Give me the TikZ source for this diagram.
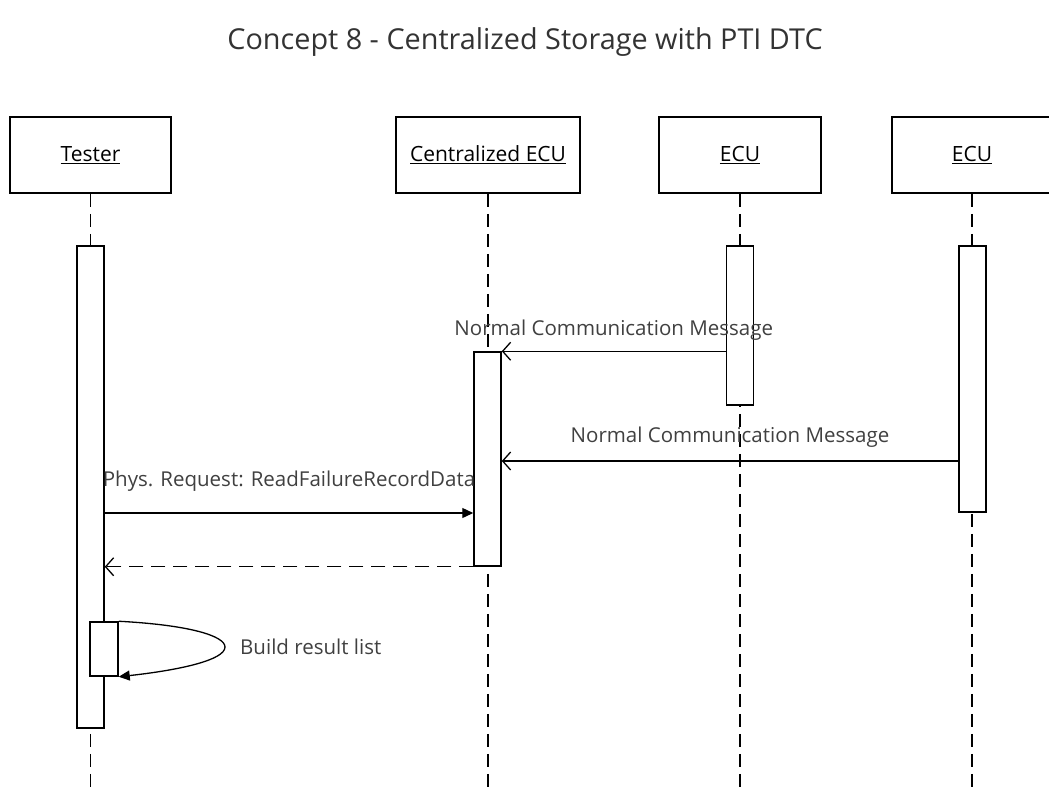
\documentclass[tikz,border=0pt]{standalone}
\usepackage{fontspec}
\setmainfont{Open Sans}
\usetikzlibrary{arrows.meta,positioning}

\begin{document}
\begin{tikzpicture}[x=1pt,y=-1pt,line join=miter,
    obj/.style={draw,line width=1.6pt,minimum height=76pt,font=\fontsize{21}{25}\selectfont},
    bar/.style={draw,fill=white,line width=1.5pt,minimum width=27pt,inner sep=0pt},
    life/.style={line width=1.6pt,dash pattern=on 13pt off 7pt},
    msg/.style={line width=1.3pt,-{Straight Barb[length=8pt,width=18pt]}},
    call/.style={line width=1.3pt,-{Triangle[length=11pt,width=10pt]}},
    ret/.style={msg,dash pattern=on 14pt off 8pt},
    lbl/.style={font=\fontsize{20.5}{24}\selectfont,text=black!75,inner sep=0pt}]
        \useasboundingbox (0,0) rectangle (1049,790);
        \node[font=\fontsize{28.8}{34}\selectfont,text=black!80] (title) at (525,42) {Concept 8 - Centralized Storage with PTI DTC};
        % objects
        \node[obj,minimum width=161pt] (tester) at (90.5,155) {\underline{Tester}};
        \node[obj,minimum width=184pt] (central) at (488,155) {\underline{Centralized ECU}};
        \node[obj,minimum width=162pt] (ecuA) at (740,155) {\underline{ECU}};
        \node[obj,minimum width=160pt] (ecuB) at (972,155) {\underline{ECU}};
        \coordinate (bottom) at (0,790);
        \foreach \o in {tester,central,ecuA,ecuB}
        \draw[life] (\o.south) -- (\o.south |- bottom);
        % activations
        \node[bar,minimum height=482pt] (barT) at (90.5,487) {};
        \node[bar,minimum height=214pt] (barC) at (487.5,459) {};
        \node[bar,minimum height=159pt] (barA) at (740,325.5) {};
        \node[bar,minimum height=266pt] (barB) at (972.5,379) {};
        \node[bar,minimum width=28pt,minimum height=54pt] (barS) at (104,649) {};
        % messages
        \coordinate (m2) at (0,461);
        \coordinate (m3) at (0,513);
        \draw[msg] (barA.west |- barC.north) -- (barC.north east) node[lbl,midway,above=10pt] (l1) {Normal Communication Message};
        \draw[msg] (barB.west |- m2) -- (barC.east |- m2) node[lbl,midway,above=13pt] (l2) {Normal Communication Message};
        \draw[call] (barT.east |- m3) -- (barC.west |- m3) node[lbl,midway,above=21pt] (l3) {Phys. Request: ReadFailureRecordData};
        \draw[ret] (barC.south west) -- (barT.east |- barC.south);
        \draw[call] (barS.north east) .. controls (190,625) and (225,636) .. (225,647) .. controls (225,660) and (180,670) .. (barS.south east);
        \node[lbl,anchor=west] (l4) at (240,647) {Build result list};
\end{tikzpicture}
\end{document}
